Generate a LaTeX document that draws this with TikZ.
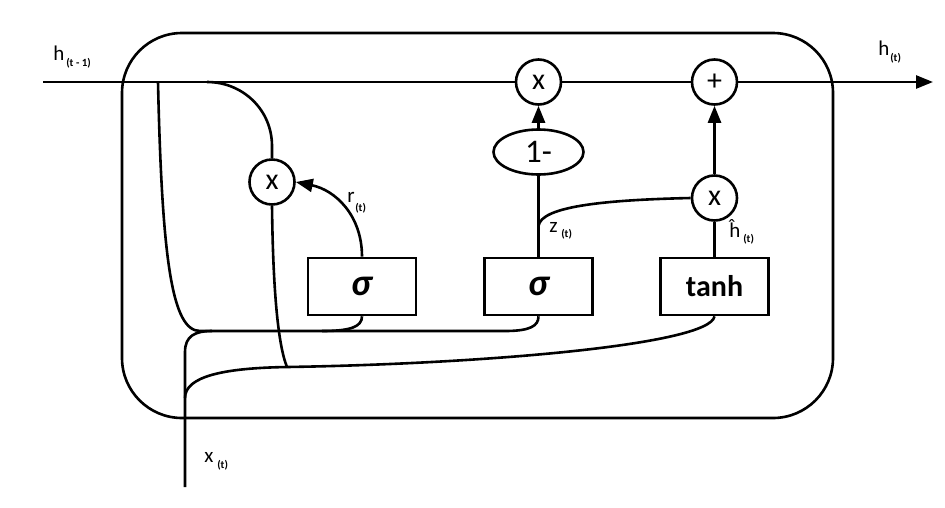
\documentclass[tikz,border=0pt]{standalone}
\usepackage{fontspec}
\setmainfont{Carlito}
\usetikzlibrary{arrows.meta,shapes.geometric}
\begin{document}
\begin{tikzpicture}[x=1pt,y=-1pt,line width=2.6pt,
  op/.style={circle,draw,fill=white,minimum size=45pt,inner sep=0pt,font=\fontsize{30}{30}\selectfont},
  gate/.style={draw,fill=white,minimum width=108pt,minimum height=57pt,inner sep=0pt},
  arr/.style={-{Triangle[length=17pt,width=13pt]}},
  lbl/.style={inner sep=0pt,anchor=base west,font=\fontsize{21}{21}\selectfont},
  sub/.style={inner sep=0pt,anchor=base west,font=\fontsize{11}{11}\selectfont\bfseries}]
\useasboundingbox (0,0) rectangle (945,507);
% outer cell
\node[draw,rounded corners=60pt,minimum width=711pt,minimum height=385pt,inner sep=0pt] (cell) at (477.5,225.5) {};
% operators
\node[op] (mulT) at (538.5,82) {x};
\node[op] (add) at (714.5,82) {+};
\node[op] (mulR) at (714.5,198) {x};
\node[op] (mulL) at (272,182) {x};
\node[ellipse,draw,fill=white,minimum width=90pt,minimum height=45pt,inner sep=0pt,font=\fontsize{33}{33}\selectfont] (om) at (538.5,152) {1-};
% gates
\node[gate,font=\fontsize{38}{38}\selectfont\bfseries\itshape] (sig1) at (362,286.5) {σ};
\node[gate,font=\fontsize{38}{38}\selectfont\bfseries\itshape] (sig2) at (538.5,286.5) {σ};
\node[gate,font=\fontsize{30}{30}\selectfont\bfseries] (tanh) at (714.5,286.5) {tanh};
% coordinates
\coordinate (hin) at (43,82);
\coordinate (hout) at (933,82);
\coordinate (hb) at (158,82);
\coordinate (bus) at (200,331);
\coordinate (busend) at (505,331);
\coordinate (s1j) at (322,331);
\coordinate (xin) at (185,487);
\coordinate (xk) at (185,352);
\coordinate (xj) at (212,331);
\coordinate (xb) at (185,398);
\coordinate (cj) at (287,367);
\coordinate (lk) at (272,146);
\coordinate (lj) at (207,82);
\coordinate (zb) at (538.5,226);
% main line
\draw (hin) -- (mulT);
\draw (mulT) -- (add);
\draw[arr] (add) -- (hout);
% h(t-1) branch and bus
\draw (hb) .. controls (162,260) and (172,331) .. (bus) -- (busend) .. controls (530,331) and (538.5,326) .. (sig2.south);
\draw (sig1.south) .. controls (362,327) and (350,331) .. (s1j);
% x(t)
\draw (xin) -- (xk) .. controls (185,336) and (195,331) .. (xj);
\draw (xb) .. controls (185,376) and (225,368) .. (cj) .. controls (480,364) and (710,345) .. (tanh.south);
% reset multiply
\draw (mulL.south) .. controls (273,290) and (278,345) .. (cj);
\draw (mulL.north) -- (lk) .. controls (272,110) and (243,82) .. (lj);
\draw[arr] (sig1.north) .. controls (362,215) and (335,190) .. (mulL.east);
% update gate
\draw (sig2.north) -- (om.south);
\draw[arr] (om.north) -- (mulT.south);
\draw (zb) .. controls (541,207) and (600,200) .. (mulR.west);
\draw (tanh.north) -- (mulR.south);
\draw[arr] (mulR.north) -- (add.south);
% labels
\node[lbl] (lh) at (52,60) {h};
\node[sub] (lhs) at (65,66) {(t - 1)};
\node[lbl] (lht) at (877,55) {h};
\node[sub] (lhts) at (889,61) {(t)};
\node[lbl] (lr) at (346,202) {r};
\node[sub] (lrs) at (354,211) {(t)};
\node[lbl] (lz) at (548,232) {z};
\node[sub] (lzs) at (560,237) {(t)};
\node[lbl] (lhh) at (728,237) {ĥ};
\node[sub] (lhhs) at (742,242) {(t)};
\node[lbl] (lx) at (203,462) {x};
\node[sub] (lxs) at (216,468) {(t)};
\end{tikzpicture}
\end{document}
